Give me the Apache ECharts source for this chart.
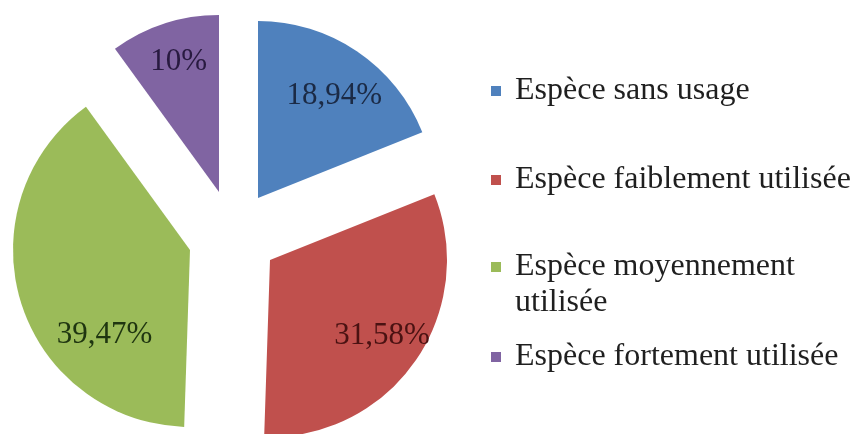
<!DOCTYPE html>
<html>
<head>
<meta charset="utf-8">
<script src="https://cdn.jsdelivr.net/npm/echarts@6/dist/echarts.min.js"></script>
<style>
html,body{margin:0;padding:0;background:#fff;}
#c{width:852px;height:434px;}
</style>
</head>
<body>
<div id="c"></div>
<script>
// Data
const categories = ['Espèce sans usage', 'Espèce faiblement utilisée', 'Espèce moyennement utilisée', 'Espèce fortement utilisée'];
const values = [18.94, 31.58, 39.47, 10];

// Styles / layout
const colors = ['#4F81BD', '#C0504D', '#9BBB59', '#8064A2'];
const labelColors = ['#1b2a45', '#4a1212', '#1f3510', '#281a40'];
const centers = [[258, 198], [270, 260], [190, 250], [219, 192]];
const labelShift = [[25, -26], [37, 23], [2, 58], [-12, -43]];
const legendTops = [73, 162, 213, 339];
const FONT = 'Liberation Serif, Times New Roman, serif';

const series = categories.map((cat, k) => ({
  type: 'pie',
  name: cat,
  center: centers[k],
  radius: [0, 177],
  startAngle: 90,
  clockwise: true,
  animation: false,
  silent: true,
  avoidLabelOverlap: false,
  emphasis: { disabled: true },
  itemStyle: { borderWidth: 0 },
  labelLine: { show: false },
  labelLayout: { dx: labelShift[k][0], dy: labelShift[k][1] },
  data: categories.map((c, i) => ({
    name: c,
    value: values[i],
    itemStyle: { color: i === k ? colors[i] : 'rgba(0,0,0,0)', borderWidth: 0 },
    label: {
      show: i === k,
      position: 'inside',
      fontFamily: FONT,
      fontSize: 31,
      color: labelColors[i],
      formatter: p => String(p.value).replace('.', ',') + '%'
    }
  }))
}));

const legends = categories.map((c, k) => ({
  show: true,
  orient: 'vertical',
  left: 491,
  top: legendTops[k],
  padding: 0,
  selectedMode: false,
  itemWidth: 28,
  itemHeight: 10,
  symbolKeepAspect: true,
  icon: 'path://M0,0h10v10h-10z',
  data: [{ name: c, itemStyle: { color: colors[k] } }],
  formatter: k === 2 ? (n => '\n' + n.replace(' utilisée', '\nutilisée')) : (n => n),
  textStyle: { fontFamily: FONT, fontSize: 32, lineHeight: 36, color: '#1f1f1f' }
}));

const chart = echarts.init(document.getElementById('c'), null, { renderer: 'canvas' });
chart.setOption({
  backgroundColor: '#ffffff',
  animation: false,
  legend: legends,
  series: series
});
</script>
</body>
</html>
